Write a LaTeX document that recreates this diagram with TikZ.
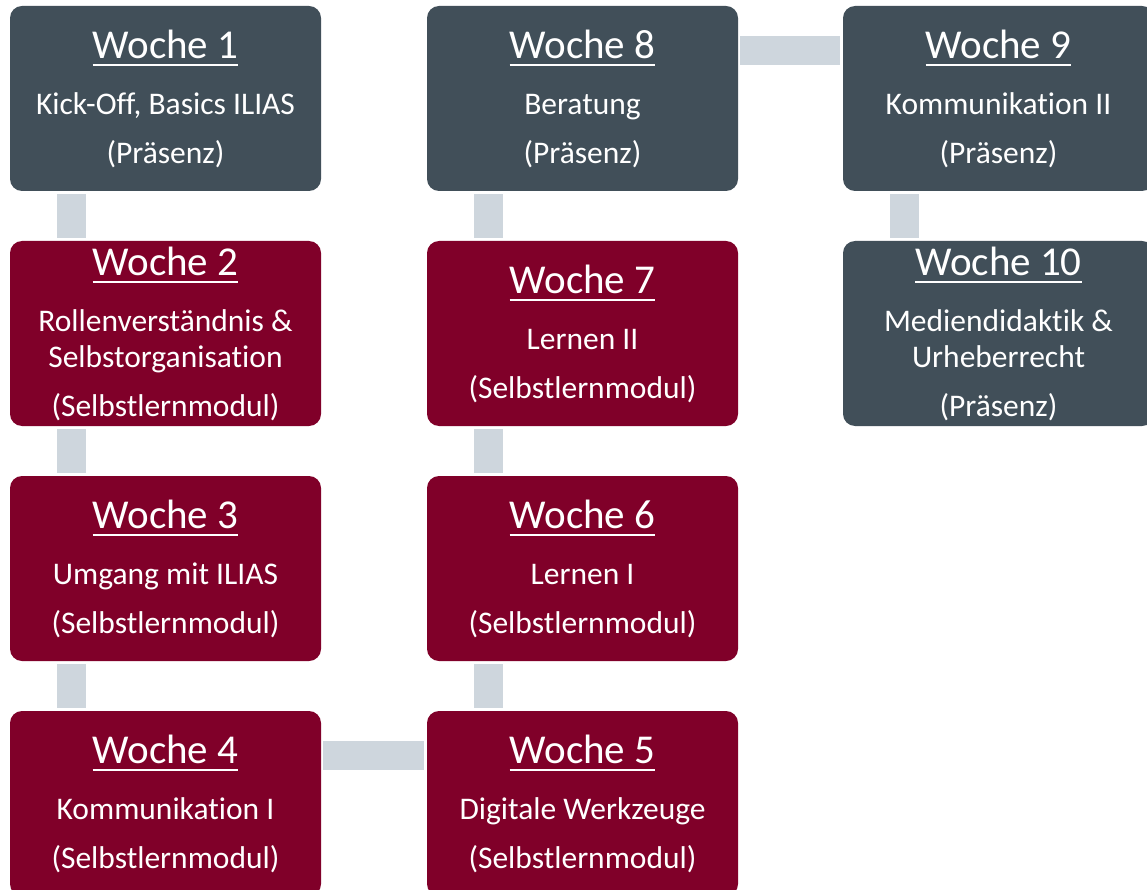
\documentclass[tikz,border=0pt]{standalone}
\usepackage{fontspec}
\setmainfont[Ligatures={NoCommon}]{Carlito}
\usetikzlibrary{positioning}

\definecolor{slate}{HTML}{414F59}
\definecolor{wine}{HTML}{800029}
\definecolor{barcol}{HTML}{CED6DD}

% underlined week heading
\newcommand\wtitle[1]{{\fontsize{41}{41}\selectfont\setbox0\hbox{#1}\rlap{\rule[-7.5pt]{\wd0}{2pt}}\box0}}

\tikzset{
  week/.style={rounded corners=12pt,minimum width=311pt,minimum height=185pt,inner sep=0pt,
    text=white,align=center,font=\fontsize{31.5}{36}\selectfont},
  praesenz/.style={week,fill=slate},
  selbst/.style={week,fill=wine},
  bar/.style={draw=barcol,line width=29pt,shorten >=3pt,shorten <=3pt}
}

\begin{document}
\begin{tikzpicture}[x=1pt,y=-1pt]
  \useasboundingbox (0,0) rectangle (1147,890);
  \clip (0,0) rectangle (1147,890);
  \fill[white] (0,0) rectangle (1147,890);

  % first column
  \node[praesenz] (W1) at (165.5,98.5) {\wtitle{Woche 1}\\[20pt] Kick-Off, Basics ILIAS\\[13pt] (Präsenz)};
  \node[selbst] (W2) at (165.5,333.5) {\wtitle{Woche 2}\\[20pt] Rollenverständnis \&\\ Selbstorganisation\\[13pt] (Selbstlernmodul)};
  \node[selbst] (W3) at (165.5,568.5) {\wtitle{Woche 3}\\[20pt] Umgang mit ILIAS\\[13pt] (Selbstlernmodul)};
  \node[selbst] (W4) at (165.5,803.5) {\wtitle{Woche 4}\\[20pt] Kommunikation I\\[13pt] (Selbstlernmodul)};

  % second column
  \node[selbst] (W5) at (582.5,803.5) {\wtitle{Woche 5}\\[20pt] Digitale Werkzeuge\\[13pt] (Selbstlernmodul)};
  \node[selbst] (W6) at (582.5,568.5) {\wtitle{Woche 6}\\[20pt] Lernen I\\[13pt] (Selbstlernmodul)};
  \node[selbst] (W7) at (582.5,333.5) {\wtitle{Woche 7}\\[20pt] Lernen II\\[13pt] (Selbstlernmodul)};
  \node[praesenz] (W8) at (582.5,98.5) {\wtitle{Woche 8}\\[20pt] Beratung\\[13pt] (Präsenz)};

  % third column
  \node[praesenz] (W9) at (998.5,98.5) {\wtitle{Woche 9}\\[20pt] Kommunikation II\\[13pt] (Präsenz)};
  \node[praesenz] (W10) at (998.5,333.5) {\wtitle{Woche 10}\\[20pt] Mediendidaktik \&\\ Urheberrecht\\[13pt] (Präsenz)};

  % connectors
  \foreach \a/\b in {W1/W2,W2/W3,W3/W4,W6/W5,W7/W6,W8/W7,W9/W10}
    \draw[bar] ([xshift=61.5pt]\a.south west) -- ([xshift=61.5pt]\b.north west);
  \draw[bar,shorten <=2pt] ([yshift=-44.5pt]W4.north east) -- ([yshift=-44.5pt]W5.north west);
  \draw[bar,shorten <=2pt] ([yshift=-44.5pt]W8.north east) -- ([yshift=-44.5pt]W9.north west);
\end{tikzpicture}
\end{document}
